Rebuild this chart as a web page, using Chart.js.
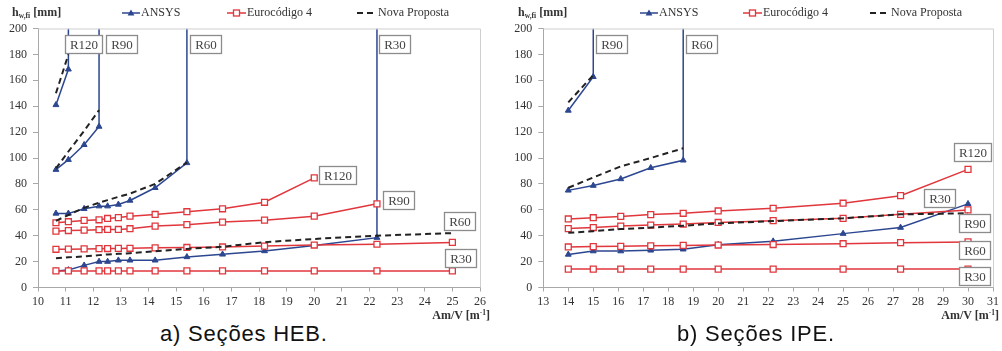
<!DOCTYPE html>
<html><head><meta charset="utf-8">
<script src="https://cdn.jsdelivr.net/npm/chart.js@4"></script>
<style>
html,body{margin:0;padding:0;background:#fff;}
body{width:1002px;height:351px;position:relative;overflow:hidden;font-family:"Liberation Serif",serif;}
.wrap{position:absolute;top:0;height:310px;}
.ytitle{position:absolute;top:5px;font:bold 12px "Liberation Serif";color:#333;line-height:14px;white-space:nowrap;}
.ytitle sub{font-size:7.5px;vertical-align:-2px;}
.xtitle{position:absolute;top:306px;font:bold 12px "Liberation Serif";color:#333;line-height:14px;white-space:nowrap;}
.xtitle sup{font-size:7.5px;vertical-align:4px;}
.caption{position:absolute;top:323px;font:22px "Liberation Sans";letter-spacing:0.8px;color:#111;line-height:22px;white-space:nowrap;}
.leg{position:absolute;top:5px;height:15px;display:flex;align-items:center;font:12px "Liberation Serif";color:#333;white-space:nowrap;}
.leg svg{margin-right:1px;}
</style>
</head><body>
<div class="wrap" id="wl" style="left:0;width:500px;"><canvas id="cl"></canvas></div>
<div class="wrap" id="wr" style="left:500px;width:502px;"><canvas id="cr"></canvas></div>

<div class="ytitle" style="left:12px;">h<sub>w,fi</sub> [mm]</div>
<div class="ytitle" style="left:518px;">h<sub>w,fi</sub> [mm]</div>
<div class="xtitle" style="right:512px;">Am/V [m<sup>-1</sup>]</div>
<div class="xtitle" style="right:3px;">Am/V [m<sup>-1</sup>]</div>
<div class="caption" style="left:160px;">a) Seções HEB.</div>
<div class="caption" style="left:677px;">b) Seções IPE.</div>

<script>
// ---------- Data: HEB sections (left) ----------
const hebX = [10.65, 11.1, 11.67, 12.21, 12.52, 12.91, 13.33, 14.24, 15.39, 16.68, 18.2, 20.0, 22.27, 25.0];
const hebAnsysR30  = [12.8, 13.5, 17.1, 20.0, 20.0, 21.0, 21.0, 21.0, 23.6, 25.6, 28.2, 32.5, 38.5];
const hebAnsysR60  = [57.2, 57.2, 60.8, 62.8, 62.8, 64.1, 67.2, 77.0, 96.2];
const hebAnsysR90  = [91.0, 98.7, 110.2, 124.3];
const hebAnsysR120 = [141.0, 168.5];
const hebEc4R30  = [12.8, 12.8, 12.8, 12.8, 12.8, 12.8, 12.8, 12.8, 12.8, 12.8, 12.8, 12.8, 12.8, 12.8];
const hebEc4R60  = [29.5, 29.6, 29.8, 30.0, 30.1, 30.2, 30.3, 30.6, 30.9, 31.3, 32.0, 32.8, 33.4, 34.8];
const hebEc4R90  = [43.5, 44.0, 44.3, 44.6, 44.8, 44.8, 45.4, 47.4, 48.5, 50.5, 52.0, 55.1, 64.6];
const hebEc4R120 = [50.0, 50.8, 51.8, 52.3, 53.3, 54.0, 55.1, 56.4, 58.5, 60.8, 65.8, 84.6];
const hebNovaR30  = [22.5, 23.3, 24.0, 25.0, 25.5, 26.0, 26.5, 28.0, 29.8, 31.5, 35.0, 37.5, 40.0, 42.0];
const hebNovaR60  = [51.5, 56.0, 61.5, 65.5, 67.5, 70.0, 72.5, 80.0, 96.5];
const hebNovaR90  = [92.0, 105.0, 121.0, 137.0];
const hebNovaR120 = [150.0, 180.0];
const hebXTicks = {min: 10, max: 26, step: 1};

// ---------- Data: IPE sections (right) ----------
const ipeX = [14.0, 15.0, 16.1, 17.3, 18.6, 20.0, 22.2, 25.0, 27.3, 30.0];
const ipeAnsysR30 = [25.5, 28.1, 28.1, 28.7, 29.5, 33.0, 35.7, 41.6, 46.3, 64.6];
const ipeAnsysR60 = [75.0, 78.7, 83.8, 92.4, 98.2];
const ipeAnsysR90 = [136.7, 162.7];
const ipeEc4R30  = [14.2, 14.2, 14.2, 14.2, 14.2, 14.2, 14.2, 14.2, 14.2, 14.2];
const ipeEc4R60  = [31.3, 31.6, 31.8, 32.2, 32.5, 32.8, 33.2, 33.8, 34.6, 35.2];
const ipeEc4R90  = [45.5, 46.3, 47.4, 48.2, 49.0, 50.2, 51.6, 53.4, 56.5, 59.9];
const ipeEc4R120 = [52.9, 53.9, 54.9, 56.3, 57.3, 59.1, 61.2, 65.1, 70.9, 91.2];
const ipeNovaR30 = [42.2, 43.5, 45.1, 46.3, 47.7, 49.5, 51.3, 53.4, 56.5, 57.3];
const ipeNovaR60 = [77.0, 85.0, 93.5, 100.0, 107.5];
const ipeNovaR90 = [143.0, 164.0];
const ipeXTicks = {min: 13, max: 31, step: 1};

const yTicks = {min: 0, max: 200, step: 20};
// ANSYS curves end with a vertical line up to the axis top (resistance limit)
const LIMIT = 200;

// Annotation labels (text anchored in data units)
const hebLabels = [
  {t:'R120', x:11.63, y:188}, {t:'R90', x:13.02, y:188}, {t:'R60', x:16.07, y:188}, {t:'R30', x:22.9, y:188},
  {t:'R120', x:20.83, y:87.2}, {t:'R90', x:23.04, y:67.5}, {t:'R60', x:25.25, y:51.2}, {t:'R30', x:25.3, y:22.5}
];
const ipeLabels = [
  {t:'R90', x:15.74, y:188}, {t:'R60', x:19.34, y:188}, {t:'R120', x:30.17, y:104.8},
  {t:'R30', x:28.87, y:68.8}, {t:'R90', x:30.27, y:50}, {t:'R60', x:30.24, y:28.7}, {t:'R30', x:30.27, y:8.6}
];

// ---------- Styles ----------
const BLUE = '#2c4790', RED = '#e0363c', DASH = '#222';

function pts(xs, ys, limit) {
  const p = ys.map((v, i) => ({x: xs[i], y: v}));
  if (limit) p.push({x: xs[ys.length - 1], y: LIMIT, lim: true});
  return p;
}
function ansys(xs, ys, limit) {
  return {data: pts(xs, ys, limit), borderColor: BLUE, backgroundColor: BLUE, borderWidth: 1.5,
    pointStyle: 'triangle', pointRadius: c => (c.raw && c.raw.lim) ? 0 : 3.4, pointBorderWidth: 1,
    showLine: true, order: 2};
}
function ec4(xs, ys) {
  return {data: pts(xs, ys), borderColor: RED, backgroundColor: '#fff', borderWidth: 1.5,
    pointStyle: 'rect', pointRadius: 4.2, pointBorderWidth: 1.3, showLine: true, order: 1};
}
function nova(xs, ys) {
  return {data: pts(xs, ys), borderColor: DASH, borderWidth: 2, borderDash: [6, 4],
    pointRadius: 0, showLine: true, order: 0};
}

const framePlugin = {
  id: 'frameLabels',
  afterDatasetsDraw(chart, args, opts) {
    const {ctx, chartArea: a, scales: {x, y}} = chart;
    ctx.save();
    ctx.strokeStyle = '#cfcfcf'; ctx.lineWidth = 1;
    ctx.beginPath();
    ctx.moveTo(a.left, a.top + 0.5); ctx.lineTo(a.right + 0.5, a.top + 0.5); ctx.lineTo(a.right + 0.5, a.bottom);
    ctx.stroke();
    ctx.font = '13px "Liberation Serif"';
    ctx.textAlign = 'center'; ctx.textBaseline = 'middle';
    (opts.labels || []).forEach(b => {
      const cx = x.getPixelForValue(b.x), cy = y.getPixelForValue(b.y);
      const w = Math.round(ctx.measureText(b.t).width + 9), h = 18;
      const l = Math.round(cx - w / 2) + 0.5, t = Math.round(cy - h / 2) + 0.5;
      ctx.fillStyle = '#fff'; ctx.fillRect(l, t, w, h);
      ctx.strokeStyle = '#8c8c8c'; ctx.lineWidth = 1.3; ctx.strokeRect(l, t, w, h);
      ctx.fillStyle = '#444'; ctx.fillText(b.t, l + w / 2, t + h / 2 + 1);
    });
    ctx.restore();
  }
};

function makeChart(id, datasets, xt, labels, yAxisW, padRight) {
  const tickFont = {family: '"Liberation Serif"', size: 12};
  return new Chart(document.getElementById(id), {
    type: 'scatter',
    data: {datasets},
    options: {
      responsive: true, maintainAspectRatio: false, animation: false,
      layout: {padding: {left: 0, right: padRight, top: 28.5, bottom: 0}},
      plugins: {legend: {display: false}, tooltip: {enabled: false}, frameLabels: {labels}},
      scales: {
        x: {type: 'linear', min: xt.min, max: xt.max,
          ticks: {stepSize: xt.step, color: '#333', font: tickFont, padding: 3, maxRotation: 0, autoSkip: false},
          grid: {drawOnChartArea: false, tickLength: 4, color: '#a8a8a8'},
          border: {color: '#a8a8a8'},
          afterFit: s => { s.height = 22.5; }},
        y: {min: yTicks.min, max: yTicks.max,
          ticks: {stepSize: yTicks.step, color: '#333', font: tickFont, padding: 6},
          grid: {drawOnChartArea: false, tickLength: 5, color: '#a8a8a8'},
          border: {color: '#a8a8a8'},
          afterFit: s => { s.width = yAxisW; }}
      }
    },
    plugins: [framePlugin]
  });
}

makeChart('cl', [
  ansys(hebX, hebAnsysR30, true), ansys(hebX, hebAnsysR60, true), ansys(hebX, hebAnsysR90, true), ansys(hebX, hebAnsysR120, true),
  ec4(hebX, hebEc4R30), ec4(hebX, hebEc4R60), ec4(hebX, hebEc4R90), ec4(hebX, hebEc4R120),
  nova(hebX, hebNovaR30), nova(hebX, hebNovaR60), nova(hebX, hebNovaR90), nova(hebX, hebNovaR120)
], hebXTicks, hebLabels, 38, 20);

makeChart('cr', [
  ansys(ipeX, ipeAnsysR30, false), ansys(ipeX, ipeAnsysR60, true), ansys(ipeX, ipeAnsysR90, true),
  ec4(ipeX, ipeEc4R30), ec4(ipeX, ipeEc4R60), ec4(ipeX, ipeEc4R90), ec4(ipeX, ipeEc4R120),
  nova(ipeX, ipeNovaR30), nova(ipeX, ipeNovaR60), nova(ipeX, ipeNovaR90)
], ipeXTicks, ipeLabels, 43.3, 8.7);

// ---------- Legends (HTML) ----------
const legendNames = ['ANSYS', 'Eurocódigo 4', 'Nova Proposta'];
function sample(k) {
  if (k === 0) return `<svg width="18" height="10"><line x1="0" y1="5" x2="18" y2="5" stroke="${BLUE}" stroke-width="1.5"/><polygon points="9,1.6 12.4,7.4 5.6,7.4" fill="${BLUE}"/></svg>`;
  if (k === 1) return `<svg width="19" height="10"><line x1="0" y1="5" x2="19" y2="5" stroke="${RED}" stroke-width="1.5"/><rect x="6.5" y="2" width="6" height="6" fill="#fff" stroke="${RED}" stroke-width="1.3"/></svg>`;
  return `<svg width="20" height="10"><line x1="0" y1="5" x2="20" y2="5" stroke="${DASH}" stroke-width="2" stroke-dasharray="6,4"/></svg>`;
}
[[122, 227, 357], [640, 743, 870]].forEach(row => row.forEach((lx, k) => {
  const d = document.createElement('div');
  d.className = 'leg'; d.style.left = lx + 'px';
  d.innerHTML = sample(k) + '<span>' + legendNames[k] + '</span>';
  document.body.appendChild(d);
}));
</script>
</body></html>
